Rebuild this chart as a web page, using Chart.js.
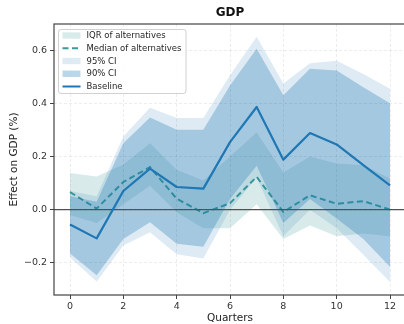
<!DOCTYPE html>
<html>
<head>
<meta charset="utf-8">
<script src="https://cdn.jsdelivr.net/npm/chart.js@4.4.1/dist/chart.umd.min.js"></script>
<style>
  html, body { margin: 0; padding: 0; background: #fff; overflow: hidden; }
  #wrap { width: 420px; height: 324px; }
</style>
</head>
<body>
<div id="wrap"><canvas id="gdpChart" width="420" height="324"></canvas></div>
<script>
// values
const quarters = [0, 1, 2, 3, 4, 5, 6, 7, 8, 9, 10, 11, 12];
const baseline = [-0.056, -0.108, 0.07, 0.154, 0.085, 0.079, 0.254, 0.386, 0.188, 0.288, 0.245, 0.167, 0.091];
const median   = [0.066, 0.004, 0.104, 0.16, 0.041, -0.013, 0.024, 0.123, -0.009, 0.054, 0.022, 0.032, 0.0];
const iqrLow   = [-0.02, -0.05, 0.02, 0.09, -0.01, -0.07, -0.07, 0.02, -0.11, -0.06, -0.1, -0.09, -0.1];
const iqrHigh  = [0.138, 0.125, 0.17, 0.25, 0.15, 0.11, 0.2, 0.29, 0.14, 0.2, 0.173, 0.167, 0.117];
const ci90Low  = [-0.165, -0.247, -0.11, -0.047, -0.128, -0.14, 0.04, 0.165, -0.05, 0.04, -0.033, -0.11, -0.215];
const ci90High = [0.05, 0.03, 0.25, 0.346, 0.3, 0.3, 0.467, 0.605, 0.43, 0.53, 0.523, 0.46, 0.4];
const ci95Low  = [-0.18, -0.27, -0.135, -0.085, -0.168, -0.184, 0.0, 0.12, -0.1, 0.0, -0.07, -0.17, -0.272];
const ci95High = [0.07, 0.05, 0.275, 0.383, 0.345, 0.345, 0.505, 0.65, 0.474, 0.55, 0.56, 0.51, 0.455];
const xTicks = [0, 2, 4, 6, 8, 10, 12];
const yTicks = [-0.2, 0, 0.2, 0.4, 0.6];

const BLUE = '#1f77b4';
const TEAL = '#3a9a96';
const IQR_FILL = 'rgba(58,154,150,0.2)';
const CI95_FILL = 'rgba(31,119,180,0.15)';
const CI90_FILL = 'rgba(31,119,180,0.3)';
const FONT = '"DejaVu Sans", sans-serif';

const toPoints = vals => vals.map((v, i) => ({ x: quarters[i], y: v }));

function band(vals, fillColor, order, label) {
    return {
        label: label,
        data: toPoints(vals),
        borderColor: 'transparent',
        borderWidth: 0,
        pointRadius: 0,
        backgroundColor: fillColor || 'transparent',
        fill: fillColor ? '-1' : false,
        order: order
    };
}

const datasets = [
    band(iqrLow, null, 7, 'iqr low'),
    band(iqrHigh, IQR_FILL, 7, 'IQR of alternatives'),
    { label: 'Median of alternatives', data: toPoints(median), borderColor: TEAL, borderWidth: 2,
      borderDash: [6, 3.5], pointRadius: 0, fill: false, order: 6 },
    band(ci95Low, null, 5, 'ci95 low'),
    band(ci95High, CI95_FILL, 5, '95% CI'),
    band(ci90Low, null, 4, 'ci90 low'),
    band(ci90High, CI90_FILL, 4, '90% CI'),
    { label: 'Baseline', data: toPoints(baseline), borderColor: BLUE, borderWidth: 2.2,
      pointRadius: 0, fill: false, order: 1, borderJoinStyle: 'round' }
];

// legend entries in the order of the picture
const legendItems = [
    { text: 'IQR of alternatives', kind: 'patch', color: IQR_FILL },
    { text: 'Median of alternatives', kind: 'dash', color: TEAL },
    { text: '95% CI', kind: 'patch', color: CI95_FILL },
    { text: '90% CI', kind: 'patch', color: CI90_FILL },
    { text: 'Baseline', kind: 'line', color: BLUE }
];

const decorations = {
    id: 'decorations',
    beforeDatasetDraw(chart, args) {
        if (args.index !== 7) return;
        const { ctx, chartArea } = chart;
        const y0 = chart.scales.y.getPixelForValue(0);
        ctx.save();
        ctx.strokeStyle = '#555';
        ctx.lineWidth = 1.2;
        ctx.beginPath();
        ctx.moveTo(chartArea.left, y0);
        ctx.lineTo(chartArea.right, y0);
        ctx.stroke();
        ctx.restore();
    },
    afterDraw(chart) {
        const { ctx, chartArea } = chart;
        ctx.save();
        // frame (right side falls outside the window, as in the picture)
        ctx.strokeStyle = '#444';
        ctx.lineWidth = 1.2;
        ctx.strokeRect(chartArea.left, chartArea.top, chartArea.right - chartArea.left, chartArea.bottom - chartArea.top);

        // legend box
        const bx = chartArea.left + 4.5, by = chartArea.top + 5.5, bw = 127.5, bh = 64;
        ctx.beginPath();
        ctx.roundRect(bx, by, bw, bh, 2.5);
        ctx.fillStyle = 'rgba(255,255,255,0.8)';
        ctx.fill();
        ctx.strokeStyle = 'rgba(204,204,204,0.9)';
        ctx.lineWidth = 1;
        ctx.stroke();

        ctx.font = '8.5px ' + FONT;
        ctx.textBaseline = 'middle';
        ctx.textAlign = 'left';
        legendItems.forEach((item, i) => {
            const cy = by + 6 + i * 12.75;
            const hx = bx + 4, hw = 18;
            if (item.kind === 'patch') {
                ctx.fillStyle = item.color;
                ctx.fillRect(hx, cy - 3.2, hw, 6.4);
            } else {
                ctx.strokeStyle = item.color;
                ctx.lineWidth = 2;
                ctx.setLineDash(item.kind === 'dash' ? [6, 3.5] : []);
                ctx.beginPath();
                ctx.moveTo(hx, cy);
                ctx.lineTo(hx + hw, cy);
                ctx.stroke();
                ctx.setLineDash([]);
            }
            ctx.fillStyle = '#262626';
            ctx.fillText(item.text, bx + 28, cy + 0.5);
        });
        ctx.restore();
    }
};

const fmtY = v => (v < 0 ? '\u2212' : '') + Math.abs(v).toFixed(1);

new Chart(document.getElementById('gdpChart').getContext('2d'), {
    type: 'line',
    data: { datasets: datasets },
    options: {
        responsive: false,
        animation: false,
        devicePixelRatio: 1,
        layout: { padding: { left: 0, right: 14, top: 0, bottom: 0 } },
        plugins: {
            legend: { display: false },
            tooltip: { enabled: false },
            title: {
                display: true,
                text: 'GDP',
                fullSize: false,
                color: '#111',
                font: { family: FONT, size: 12, weight: 'bold', lineHeight: 1.2 },
                padding: { top: 5.3, bottom: 4.3 }
            }
        },
        scales: {
            x: {
                type: 'linear',
                min: -0.6,
                max: 12.6,
                afterFit: s => { s.height = 29; },
                afterBuildTicks: s => { s.ticks = xTicks.map(v => ({ value: v })); },
                ticks: { color: '#333', font: { family: FONT, size: 9.5 }, padding: 2, maxRotation: 0 },
                grid: { color: 'rgba(0,0,0,0.07)', tickColor: '#444', tickLength: 4, z: 1 },
                border: { display: false, dash: [3, 2] },
                title: { display: true, text: 'Quarters', color: '#222',
                         font: { family: FONT, size: 10.5, lineHeight: 1 }, padding: { top: 0, bottom: 0 } }
            },
            y: {
                type: 'linear',
                min: -0.321,
                max: 0.698,
                afterFit: s => { s.width = 54; },
                afterBuildTicks: s => { s.ticks = yTicks.map(v => ({ value: v })); },
                ticks: { color: '#333', font: { family: FONT, size: 9.5 }, padding: 3, callback: v => fmtY(v) },
                grid: { color: 'rgba(0,0,0,0.07)', tickColor: '#444', tickLength: 4, z: 1 },
                border: { display: false, dash: [3, 2] },
                title: { display: true, text: 'Effect on GDP (%)', color: '#222',
                         font: { family: FONT, size: 10.5, lineHeight: 1 }, padding: { top: 8.75, bottom: 0 } }
            }
        }
    },
    plugins: [decorations]
});
</script>
</body>
</html>
